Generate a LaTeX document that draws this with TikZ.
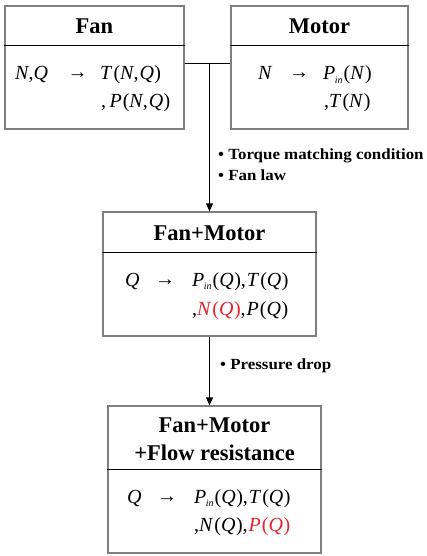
\documentclass[tikz,border=0pt]{standalone}
\usepackage{fontspec}
\setmainfont{Liberation Serif}
\newfontfamily\lblfont[FakeStretch=1.09]{Liberation Serif}
\usetikzlibrary{arrows.meta}
\definecolor{boxgray}{HTML}{7F7F7F}
\definecolor{mred}{HTML}{E8202A}
\newcommand{\vi}[1]{\textit{#1}}
\newcommand{\Pin}{\vi{P}\kern-0.5pt\raisebox{-3.5pt}{\fontsize{10}{10}\selectfont\vi{in}}}
\newcommand{\arr}{→}
\newcommand{\lp}{\kern1pt(}
\newcommand{\rp}{\kern0.5pt)}
\begin{document}
\begin{tikzpicture}[x=1pt,y=-1pt,
  box/.style={draw=boxgray,line width=1.3pt,minimum width=#1,inner sep=0pt},
  head/.style={font=\fontsize{22.5}{26}\selectfont\bfseries,inner sep=0pt,anchor=base,align=center},
  mtext/.style={font=\fontsize{20}{24}\selectfont,inner sep=0pt,anchor=base west},
  arrtext/.style={font=\fontsize{20}{24}\selectfont,inner sep=0pt,anchor=base},
  lbl/.style={font=\lblfont\fontsize{15.5}{18}\selectfont\bfseries,inner sep=0pt,anchor=base west},
  divider/.style={draw=black,line width=0.8pt},
  conn/.style={draw=black,line width=0.8pt},
  arrow/.style={conn,-{Triangle[length=8pt,width=7pt]}}]
\useasboundingbox (0,0) rectangle (427,556);
% boxes
\node[box=179pt,minimum height=123pt] (fan) at (94.5,67.5) {};
\node[box=177pt,minimum height=123pt] (motor) at (319.5,67.5) {};
\node[box=213pt,minimum height=124pt] (fm) at (209.5,274) {};
\node[box=213pt,minimum height=147pt] (fmr) at (214.5,479.5) {};
% dividers
\coordinate (d1) at (0,45);
\coordinate (d2) at (0,252);
\coordinate (d3) at (0,469);
\draw[divider] (fan.west |- d1) -- (fan.east |- d1);
\draw[divider] (motor.west |- d1) -- (motor.east |- d1);
\draw[divider] (fm.west |- d2) -- (fm.east |- d2);
\draw[divider] (fmr.west |- d3) -- (fmr.east |- d3);
% headers
\node[head] (hfan) at (94.5,34) {Fan};
\node[head] (hmotor) at (319.5,34) {Motor};
\node[head] (hfm) at (209.5,240) {Fan+Motor};
\node[head] (hfmr1) at (214.5,432) {Fan+Motor};
\node[head] (hfmr2) at (214.5,460) {+Flow resistance};
% fan body
\node[mtext] (f1) at (15,80) {\vi{N},\vi{Q}};
\node[arrtext] (fa) at (77.5,79) {\arr};
\node[mtext] (f2) at (100,80) {\vi{T}\lp\vi{N},\kern1pt\vi{Q}\rp};
\node[mtext] (f3) at (101,108) {,\,\vi{P}\lp\vi{N},\kern1pt\vi{Q}\rp};
% motor body
\node[mtext] (m1) at (258,80) {\vi{N}};
\node[arrtext] (ma) at (299,79) {\arr};
\node[mtext] (m2) at (323,80) {\Pin\lp\vi{N}\rp};
\node[mtext] (m3) at (324,108) {,\vi{T}\lp\vi{N}\rp};
% fan+motor body
\node[mtext] (q1) at (125,286) {\vi{Q}};
\node[arrtext] (qa) at (165,285) {\arr};
\node[mtext] (q2) at (192,286) {\Pin\lp\vi{Q}\rp,\kern1pt\vi{T}\lp\vi{Q}\rp};
\node[mtext] (q3) at (192,315) {,\textcolor{mred}{\vi{N}\lp\vi{Q}\rp},\kern1pt\vi{P}\lp\vi{Q}\rp};
% fan+motor+resistance body
\node[mtext] (r1) at (127,503) {\vi{Q}};
\node[arrtext] (ra) at (167,502) {\arr};
\node[mtext] (r2) at (194,503) {\Pin\lp\vi{Q}\rp,\kern1pt\vi{T}\lp\vi{Q}\rp};
\node[mtext] (r3) at (194,531) {,\vi{N}\lp\vi{Q}\rp,\kern1pt\textcolor{mred}{\vi{P}\lp\vi{Q}\rp}};
% connectors
\coordinate (j) at (209.5,63);
\draw[conn] (fan.east |- j) -- (motor.west |- j);
\draw[arrow] (j) -- (fm.north);
\draw[arrow] (fm.south) -- (fm.south |- fmr.north);
% labels
\node[lbl] (l1) at (218,160) {\textbullet\ Torque matching condition};
\node[lbl] (l2) at (218,180) {\textbullet\ Fan law};
\node[lbl] (l3) at (220,369) {\textbullet\ Pressure drop};
\end{tikzpicture}
\end{document}
